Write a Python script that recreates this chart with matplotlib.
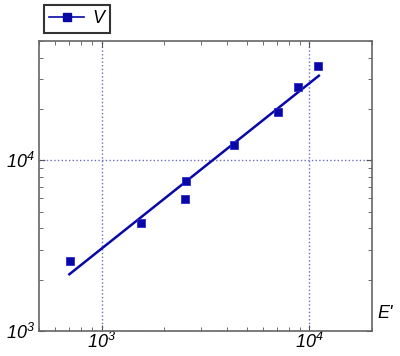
import matplotlib
matplotlib.use('Agg')
import matplotlib.pyplot as plt
from matplotlib.ticker import LogLocator, NullFormatter

# measured points (E', V)
e_prime = [705, 1540, 2530, 2550, 4350, 7030, 8850, 11000]
v_vals = [2580, 4300, 5970, 7530, 12300, 19200, 26800, 35900]

# fitted power-law line, endpoints
fit_x = [700, 11100]
fit_y = [2150, 31300]

x_ticks = [1e3, 1e4]
x_tick_labels = ['$10^3$', '$10^4$']
y_ticks = [1e3, 1e4]
y_tick_labels = ['$10^3$', '$10^4$']

blue = '#0808a8'
grid_col = '#6a6ac8'

plt.rcParams['font.family'] = ['Liberation Sans', 'DejaVu Sans']
plt.rcParams['mathtext.fontset'] = 'custom'
plt.rcParams['mathtext.rm'] = 'Liberation Sans:italic'
plt.rcParams['mathtext.it'] = 'Liberation Sans:italic'

fig = plt.figure(figsize=(4.0, 3.56), dpi=100)
ax = fig.add_axes([39 / 400, 1 - 331 / 356, 333 / 400, 290 / 356])

ax.plot(fit_x, fit_y, color=blue, lw=1.8, zorder=3)
ax.plot(e_prime, v_vals, ls='none', marker='s', ms=5.5, color=blue,
        markeredgecolor='#2a2ad0', markeredgewidth=0.6, zorder=4)

ax.set_xscale('log')
ax.set_yscale('log')
ax.set_xlim(500, 20000)
ax.set_ylim(1000, 50000)

ax.set_xticks(x_ticks)
ax.set_xticklabels(x_tick_labels, fontsize=13)
ax.set_yticks(y_ticks)
ax.set_yticklabels(y_tick_labels, fontsize=13)
ax.xaxis.set_minor_locator(LogLocator(base=10, subs=range(2, 10)))
ax.yaxis.set_minor_locator(LogLocator(base=10, subs=range(2, 10)))
ax.xaxis.set_minor_formatter(NullFormatter())
ax.yaxis.set_minor_formatter(NullFormatter())

ax.tick_params(which='both', direction='in', top=True, right=True,
               color='#555555')
ax.tick_params(which='major', length=4)
ax.tick_params(which='minor', length=3)
ax.tick_params(axis='x', which='major', pad=1)
ax.tick_params(axis='y', which='major', pad=3)

for s in ax.spines.values():
    s.set_color('#666666')
    s.set_linewidth(1.2)

ax.grid(True, which='major', ls=':', color=grid_col, lw=1.0)

ax.text(1.04, 0.03, "E'", transform=ax.transAxes, fontsize=13,
        style='italic', ha='center', va='bottom', clip_on=False)

leg = fig.legend([plt.Line2D([], [], color=blue, marker='s', ms=5.5, lw=1.2)],
                 ['V'], loc='upper left', bbox_to_anchor=(44 / 400, 1 - 5 / 356),
                 borderaxespad=0, frameon=True, fancybox=False,
                 handlelength=1.9, handletextpad=0.5, borderpad=0.3,
                 prop={'style': 'italic', 'size': 13})
leg.get_frame().set_edgecolor('black')
leg.get_frame().set_linewidth(1.5)

fig.savefig('out.png', dpi=100)
